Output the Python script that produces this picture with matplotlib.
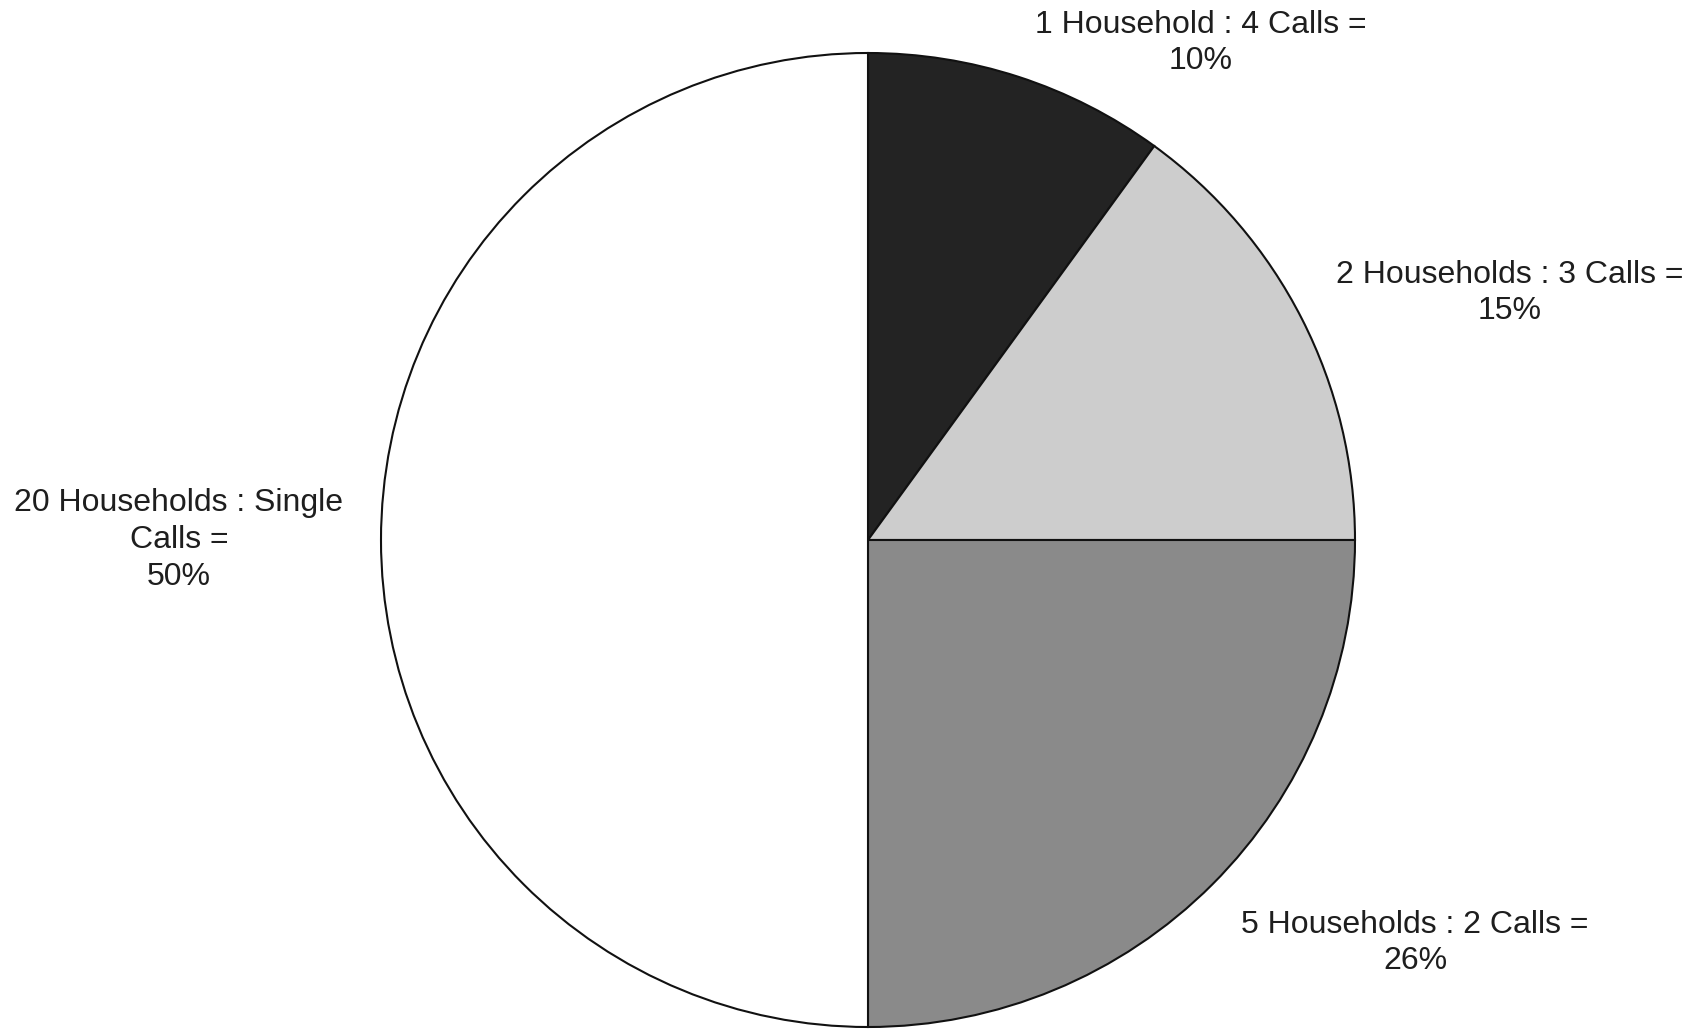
import matplotlib.pyplot as plt

plt.rcParams['font.family'] = ['Liberation Sans', 'DejaVu Sans']

# slice data (clockwise from 12 o'clock)
calls = [4, 6, 10, 20]
labels = [
    "1 Household : 4 Calls =\n10%",
    "2 Households : 3 Calls =\n15%",
    "5 Households : 2 Calls =\n26%",
    "20 Households : Single\nCalls =\n50%",
]
colors = ['#232323', '#cdcdcd', '#8a8a8a', '#ffffff']

W, H = 1696, 1029
fig = plt.figure(figsize=(W / 100, H / 100), dpi=100)
ax = fig.add_axes([0, 0, 1, 1])

ax.pie(calls, colors=colors, startangle=90, counterclock=False,
       center=(868, H - 540), radius=487, frame=True,
       wedgeprops=dict(edgecolor='#111111', linewidth=1.5))

# label positions in pixel space (top-left origin)
label_pos = [(1201, 43), (1510, 293), (1415, 943), (179, 540)]
for text, (x, y) in zip(labels, label_pos):
    ax.text(x, H - y, text, ha='center', va='center', fontsize=23,
            color='#1e1e1e', linespacing=1.3)

ax.set_xlim(0, W)
ax.set_ylim(0, H)
ax.set_aspect('equal')
ax.axis('off')

fig.savefig('out.png', dpi=100)
